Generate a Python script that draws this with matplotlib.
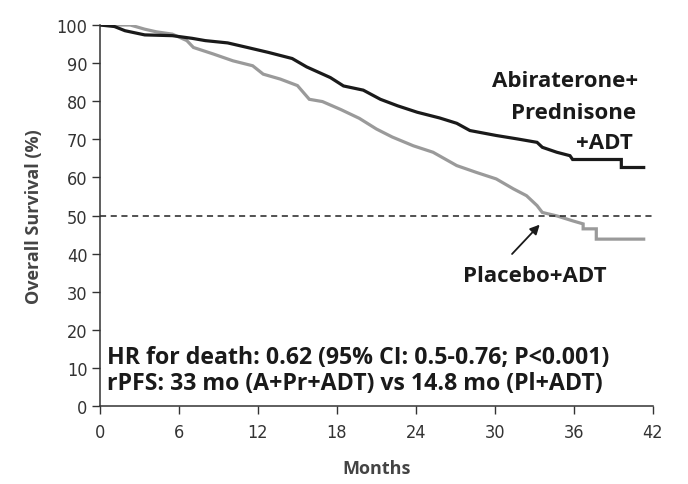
import matplotlib
matplotlib.use("Agg")
import matplotlib.pyplot as plt

# Abiraterone + Prednisone + ADT (months, survival %)
abi_months = [0, 1.1, 1.9, 3.4, 5.5, 7.0, 8.0, 9.7, 11.2, 12.8, 14.6, 15.7, 17.5, 18.5,
              20.0, 21.3, 22.6, 24.1, 25.8, 27.1, 28.1, 30.1, 31.7, 33.2, 33.6, 34.7,
              35.7, 35.9, 39.6, 39.6, 41.3]
abi_surv = [100, 99.6, 98.5, 97.4, 97.2, 96.5, 95.9, 95.3, 94.1, 92.8, 91.2, 89.0, 86.2, 84.0,
            82.9, 80.5, 78.8, 77.1, 75.6, 74.2, 72.3, 71.0, 70.1, 69.2, 67.9, 66.6,
            65.7, 64.7, 64.7, 62.6, 62.6]

# Placebo + ADT
pla_months = [0, 2.3, 3.4, 4.3, 5.5, 6.6, 7.1, 8.6, 10.1, 11.6, 12.4, 13.7, 15.0, 15.9,
              16.9, 18.3, 19.7, 21.0, 22.2, 23.8, 25.3, 27.1, 28.6, 30.1, 31.4, 32.4,
              33.2, 33.6, 34.7, 35.9, 36.7, 36.7, 37.7, 37.7, 41.3]
pla_surv = [100, 100, 98.9, 98.2, 97.6, 95.9, 94.1, 92.4, 90.6, 89.3, 87.1, 85.8, 84.1, 80.5,
            79.9, 77.8, 75.5, 72.7, 70.6, 68.3, 66.6, 63.1, 61.3, 59.6, 57.0, 55.2,
            52.6, 50.8, 49.9, 48.6, 47.8, 46.5, 46.5, 43.8, 43.8]

x_ticks = [0, 6, 12, 18, 24, 30, 36, 42]
y_ticks = [0, 10, 20, 30, 40, 50, 60, 70, 80, 90, 100]

fig = plt.figure(figsize=(6.88, 4.85), dpi=100)
ax = fig.add_axes([0.1453, 0.1608, 0.8037, 0.7856])

ax.plot(pla_months, pla_surv, color="#9a9a9a", lw=2.3, solid_joinstyle="miter")
ax.plot(abi_months, abi_surv, color="#1a1a1a", lw=2.3, solid_joinstyle="miter")
ax.axhline(50, color="#222222", lw=1.1, ls=(0, (4, 3)))

ax.set_xlim(0, 42)
ax.set_ylim(0, 100)
ax.set_xticks(x_ticks)
ax.set_yticks(y_ticks)
tick_font = dict(family="DejaVu Sans", stretch="condensed", size=13, color="#333333")
ax.set_xticklabels([str(t) for t in x_ticks], **tick_font)
ax.set_yticklabels([str(t) for t in y_ticks], **tick_font)
ax.tick_params(axis="both", direction="out", length=6, width=1, color="#333333", pad=3)
ax.tick_params(axis="x", pad=6)
for s in ["top", "right"]:
    ax.spines[s].set_visible(False)
for s in ["left", "bottom"]:
    ax.spines[s].set_color("#333333")
    ax.spines[s].set_linewidth(1.1)

ax.set_ylabel("Overall Survival (%)", family="Open Sans", weight="bold", size=13,
              color="#444444", labelpad=10)
ax.set_xlabel("Months", family="Open Sans", weight="bold", size=13,
              color="#444444", labelpad=13)

bold = dict(family="Open Sans", weight="bold", color="#1a1a1a", size=16)
ax.text(40.9, 83.9, "Abiraterone+", ha="right", va="baseline", **bold)
ax.text(40.7, 75.5, "Prednisone", ha="right", va="baseline", **bold)
ax.text(40.5, 67.6, "+ADT", ha="right", va="baseline", **bold)
ax.text(33.0, 32.9, "Placebo+ADT", ha="center", va="baseline", **bold)
ax.annotate("", xy=(33.4, 47.6), xytext=(31.3, 39.9),
            arrowprops=dict(arrowstyle="-|>", color="#1a1a1a", lw=1.3,
                            mutation_scale=14, shrinkA=0, shrinkB=0))
bold_big = dict(bold, size=16.7)
ax.text(0.5, 11.4, "HR for death: 0.62 (95% CI: 0.5-0.76; P<0.001)", ha="left",
        va="baseline", **bold_big)
ax.text(0.5, 4.45, "rPFS: 33 mo (A+Pr+ADT) vs 14.8 mo (Pl+ADT)", ha="left",
        va="baseline", **bold_big)

fig.savefig("out.png", dpi=100)
